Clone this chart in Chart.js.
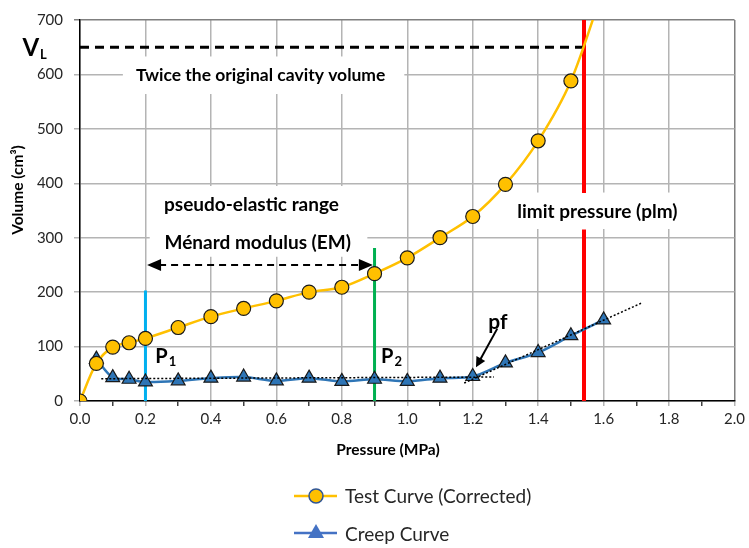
<!DOCTYPE html>
<html>
<head>
<meta charset="utf-8">
<script src="https://cdn.jsdelivr.net/npm/chart.js@4.4.1/dist/chart.umd.min.js"></script>
<style>
  html, body { margin: 0; padding: 0; background: #fff; }
</style>
</head>
<body>
<canvas id="pmtChart" width="749" height="548"></canvas>
<script>
// ===================== Data =====================
const pressureTest = [0, 0.05, 0.1, 0.15, 0.2, 0.3, 0.4, 0.5, 0.6, 0.7, 0.8, 0.9, 1.0, 1.1, 1.2, 1.3, 1.4, 1.5, 1.6];
const volumeTest = [0, 69, 99, 107, 115, 135, 155, 170, 184, 200, 209, 234, 263, 300, 339, 398, 478, 588, 760];

const pressureCreep = [0.05, 0.1, 0.15, 0.2, 0.3, 0.4, 0.5, 0.6, 0.7, 0.8, 0.9, 1.0, 1.1, 1.2, 1.3, 1.4, 1.5, 1.6];
const volumeCreep = [77, 43, 40, 35, 37, 42, 44, 37, 42, 36, 40, 36, 42, 45, 70, 89, 120, 149];

// dotted trend lines on the creep curve
const trendFlatX = [0.065, 1.265];
const trendFlatY = [41, 44];
const trendRiseX = [1.174, 1.716];
const trendRiseY = [33, 180];

// reference lines
const p1Pressure = 0.2, p1Top = 203;
const p2Pressure = 0.9, p2Top = 281;
const plmPressure = 1.54;
const plmVolumes = [0, 315, null, 382, 700];
const vlVolume = 650, vlEnd = 1.55;

const yTicks = [0, 100, 200, 300, 400, 500, 600, 700];

const FONT = 'Lato, "Open Sans", sans-serif';

const toPoints = (xs, ys) => xs.map((v, i) => ({ x: v, y: ys[i] }));

// ===================== Annotations =====================
// white label boxes (pressure from, pressure to, volume from, volume to)
const labelBoxes = [
    [0.131, 0.991, 564, 633],
    [0.213, 0.878, 265, 395],
    [1.28, 1.86, 316, 383]
];

function arrowHead(ctx, fromX, fromY, toX, toY, len, half) {
    const a = Math.atan2(toY - fromY, toX - fromX);
    ctx.beginPath();
    ctx.moveTo(toX, toY);
    ctx.lineTo(toX - len * Math.cos(a) + half * Math.sin(a), toY - len * Math.sin(a) - half * Math.cos(a));
    ctx.lineTo(toX - len * Math.cos(a) - half * Math.sin(a), toY - len * Math.sin(a) + half * Math.cos(a));
    ctx.closePath();
    ctx.fill();
}

function subText(ctx, main, sub, x, y, size, subSize) {
    ctx.font = `bold ${size}px ${FONT}`;
    ctx.textAlign = 'left';
    ctx.textBaseline = 'alphabetic';
    ctx.fillText(main, x, y);
    const w = ctx.measureText(main).width;
    ctx.font = `bold ${subSize}px ${FONT}`;
    ctx.fillText(sub, x + w + 1, y + 3);
}

const annotationPlugin = {
    id: 'annotations',
    beforeDatasetsDraw(chart) {
        const { ctx, scales: { x, y } } = chart;
        ctx.save();
        ctx.fillStyle = '#ffffff';
        labelBoxes.forEach(b => {
            const x0 = x.getPixelForValue(b[0]), x1 = x.getPixelForValue(b[1]);
            const y0 = y.getPixelForValue(b[3]), y1 = y.getPixelForValue(b[2]);
            ctx.fillRect(x0, y0, x1 - x0, y1 - y0);
        });
        ctx.restore();
    },
    afterDatasetsDraw(chart) {
        const { ctx, scales: { x, y } } = chart;
        ctx.save();
        ctx.fillStyle = '#000';
        ctx.textBaseline = 'middle';
        ctx.textAlign = 'center';
        ctx.font = `bold 17.5px ${FONT}`;
        ctx.fillText('Twice the original cavity volume', x.getPixelForValue(0.552), y.getPixelForValue(598));
        ctx.font = `bold 19px ${FONT}`;
        ctx.fillText('pseudo-elastic range', x.getPixelForValue(0.524), y.getPixelForValue(361));
        ctx.fillText('Ménard modulus (EM)', x.getPixelForValue(0.543), y.getPixelForValue(290));
        ctx.fillText('limit pressure (plm)', x.getPixelForValue(1.581), y.getPixelForValue(348));

        ctx.font = `bold 21px ${FONT}`;
        ctx.fillText('pf', x.getPixelForValue(1.277), y.getPixelForValue(145));

        subText(ctx, 'P', '1', x.getPixelForValue(0.23), y.getPixelForValue(70), 20, 13);
        subText(ctx, 'P', '2', x.getPixelForValue(0.92), y.getPixelForValue(70), 20, 13);
        subText(ctx, 'V', 'L', x.getPixelForValue(-0.176), y.getPixelForValue(633), 24, 13);

        // double arrow for the pseudo-elastic range
        const ay = y.getPixelForValue(250);
        const ax0 = x.getPixelForValue(0.205), ax1 = x.getPixelForValue(0.895);
        ctx.strokeStyle = '#000';
        ctx.lineWidth = 2;
        ctx.setLineDash([7, 5]);
        ctx.beginPath();
        ctx.moveTo(ax0 + 12, ay);
        ctx.lineTo(ax1 - 12, ay);
        ctx.stroke();
        ctx.setLineDash([]);
        arrowHead(ctx, ax1, ay, ax0, ay, 14, 6);
        arrowHead(ctx, ax0, ay, ax1, ay, 14, 6);

        // pf arrow
        const fx = x.getPixelForValue(1.275), fy = y.getPixelForValue(133);
        const tx = x.getPixelForValue(1.21), ty = y.getPixelForValue(62);
        ctx.beginPath();
        ctx.moveTo(fx, fy);
        ctx.lineTo(tx + (fx - tx) * 0.15, ty + (fy - ty) * 0.15);
        ctx.stroke();
        arrowHead(ctx, fx, fy, tx, ty, 10, 5);
        ctx.restore();
    },
    afterDraw(chart) {
        const { ctx } = chart;
        ctx.save();
        // axis titles (placed like the original, a bit off-centre)
        ctx.fillStyle = '#000';
        ctx.font = `bold 15.5px ${FONT}`;
        ctx.textAlign = 'center';
        ctx.textBaseline = 'middle';
        ctx.fillText('Pressure (MPa)', 388, 450);
        ctx.save();
        ctx.translate(18, 190);
        ctx.rotate(-Math.PI / 2);
        ctx.fillText('Volume (cm³)', 0, 0);
        ctx.restore();

        // legend, stacked in two rows like the original
        ctx.lineWidth = 2.5;
        ctx.strokeStyle = '#FFC000';
        ctx.beginPath(); ctx.moveTo(294, 496); ctx.lineTo(337, 496); ctx.stroke();
        ctx.fillStyle = '#FFC000';
        ctx.strokeStyle = '#2F5597';
        ctx.lineWidth = 1.5;
        ctx.beginPath(); ctx.arc(316, 496, 7, 0, Math.PI * 2); ctx.fill(); ctx.stroke();

        ctx.lineWidth = 2.5;
        ctx.strokeStyle = '#4472C4';
        ctx.beginPath(); ctx.moveTo(294, 533); ctx.lineTo(337, 533); ctx.stroke();
        ctx.fillStyle = '#4472C4';
        ctx.beginPath(); ctx.moveTo(316, 524); ctx.lineTo(324, 538); ctx.lineTo(308, 538); ctx.closePath(); ctx.fill();

        ctx.fillStyle = '#262626';
        ctx.font = `19px ${FONT}`;
        ctx.textAlign = 'left';
        ctx.fillText('Test Curve (Corrected)', 345, 497);
        ctx.fillText('Creep Curve', 345, 535);
        ctx.restore();
    }
};

// ===================== Chart =====================
const ctx = document.getElementById('pmtChart').getContext('2d');

const pmtChart = new Chart(ctx, {
    type: 'scatter',
    data: {
        datasets: [
            {
                label: 'Test Curve (Corrected)',
                data: toPoints(pressureTest, volumeTest),
                showLine: true,
                borderColor: '#FFC000',
                borderWidth: 2.5,
                backgroundColor: '#FFC000',
                pointBorderColor: '#1a1a1a',
                pointBorderWidth: 1.2,
                pointRadius: pressureTest.map((p, i) => i === pressureTest.length - 1 ? 0 : 7),
                tension: 0.3,
                order: 0
            },
            {
                label: 'trend flat',
                data: toPoints(trendFlatX, trendFlatY),
                showLine: true,
                borderColor: '#000',
                borderWidth: 1.5,
                borderDash: [2, 2],
                pointRadius: 0,
                order: 1
            },
            {
                label: 'trend rise',
                data: toPoints(trendRiseX, trendRiseY),
                showLine: true,
                borderColor: '#000',
                borderWidth: 1.5,
                borderDash: [2, 2],
                pointRadius: 0,
                order: 1
            },
            {
                label: 'Creep Curve',
                data: toPoints(pressureCreep, volumeCreep),
                showLine: true,
                borderColor: '#2E75B6',
                borderWidth: 2.5,
                backgroundColor: '#2E75B6',
                pointStyle: 'triangle',
                pointBorderColor: '#1a1a1a',
                pointBorderWidth: 1.2,
                pointRadius: 8,
                tension: 0.3,
                order: 2
            },
            {
                label: 'VL',
                data: [{ x: 0, y: vlVolume }, { x: vlEnd, y: vlVolume }],
                showLine: true,
                borderColor: '#000',
                borderWidth: 3,
                borderDash: [9, 6],
                pointRadius: 0,
                order: 3
            },
            {
                label: 'P1',
                data: [{ x: p1Pressure, y: 0 }, { x: p1Pressure, y: p1Top }],
                showLine: true,
                borderColor: '#00B0F0',
                borderWidth: 3,
                pointRadius: 0,
                order: 4
            },
            {
                label: 'P2',
                data: [{ x: p2Pressure, y: 0 }, { x: p2Pressure, y: p2Top }],
                showLine: true,
                borderColor: '#00B050',
                borderWidth: 3,
                pointRadius: 0,
                order: 4
            },
            {
                label: 'plm',
                data: plmVolumes.map(v => ({ x: plmPressure, y: v })),
                showLine: true,
                spanGaps: false,
                borderColor: '#FF0000',
                borderWidth: 4,
                pointRadius: 0,
                order: 4
            }
        ]
    },
    options: {
        responsive: false,
        animation: false,
        layout: { padding: { left: 0, right: 13, top: 15, bottom: 82 } },
        elements: { line: { capBezierPoints: false } },
        plugins: {
            legend: { display: false },
            tooltip: { enabled: false }
        },
        scales: {
            x: {
                type: 'linear',
                min: 0,
                max: 2,
                afterFit: scale => { scale.height = 65; },
                ticks: {
                    stepSize: 0.1,
                    autoSkip: false,
                    maxRotation: 0,
                    padding: 4,
                    color: '#262626',
                    font: { family: FONT, size: 15 },
                    callback: (v, i) => i % 2 === 0 ? v.toFixed(1) : ''
                },
                grid: {
                    color: c => c.index === 20 ? '#7f7f7f' : (c.index % 2 === 0 ? '#b4b4b4' : 'rgba(0,0,0,0)'),
                    tickColor: c => c.index % 2 === 0 ? '#b4b4b4' : '#404040',
                    tickLength: 5,
                    lineWidth: 1.5
                },
                border: { color: '#000', width: 1.5 }
            },
            y: {
                min: 0,
                max: 700,
                afterFit: scale => { scale.width = 80; },
                afterBuildTicks: scale => { scale.ticks = yTicks.map(v => ({ value: v })); },
                ticks: {
                    padding: 11,
                    color: '#262626',
                    font: { family: FONT, size: 15 }
                },
                grid: {
                    color: c => c.index === yTicks.length - 1 ? '#7f7f7f' : '#b4b4b4',
                    tickLength: 6,
                    lineWidth: 1.5
                },
                border: { color: '#000', width: 1.5 }
            }
        }
    },
    plugins: [annotationPlugin]
});
</script>
</body>
</html>
